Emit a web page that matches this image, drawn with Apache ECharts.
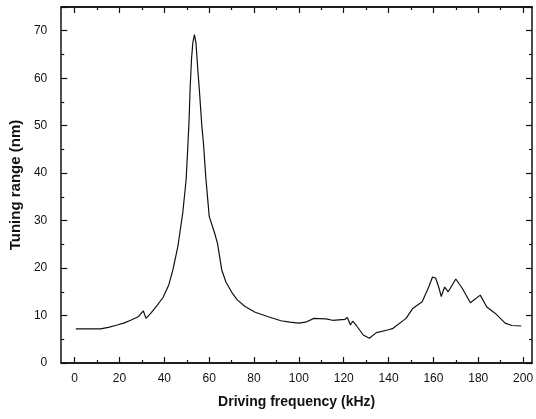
<!DOCTYPE html>
<html lang="en">
<head>
  <meta charset="UTF-8">
  <title>Tuning range</title>
  <script src="https://cdn.jsdelivr.net/npm/echarts@6/dist/echarts.min.js"></script>
  <style>
    html, body { margin: 0; padding: 0; background: #fff; }
    #main { width: 536px; height: 419px; }
  </style>
</head>
<body>
<div id="main"></div>
<script>
  // driving frequency (kHz)
  var freq = [0.5, 5, 11.5, 15, 19, 21.8, 25, 28.5, 30.6, 31.8, 34, 36.5, 39.4, 42, 43.8, 46, 48.2, 49.7, 50.4, 51,
    51.5, 52.1, 52.7, 53.4, 54.1, 54.8, 55.6, 56.7, 57.4, 58.5, 60, 62.2, 63.7, 65.6, 67.5, 70.3, 72.5, 76, 80.5,
    86, 92, 96, 100, 103, 106.7, 112, 115, 120.6, 121.6, 123, 124, 125.8, 128.7, 131.4, 134.6, 140, 142, 147.8, 150.8,
    155, 158, 159.6, 161, 162.5, 163.5, 165, 166.6, 170, 172.8, 176.5, 180.9, 183.8, 187.5, 192, 195, 199.2];
  // tuning range (nm)
  var tuning = [7.2, 7.2, 7.2, 7.5, 8.0, 8.4, 9.0, 9.8, 11.0, 9.4, 10.5, 12, 13.8, 16.5, 19.6, 24.5, 31.6, 38.6, 45, 51,
    58, 64, 67.5, 69.2, 67.4, 62.5, 57.6, 50, 46.5, 39, 30.9, 27.7, 25.2, 19.6, 17, 14.7, 13.3, 11.9, 10.7,
    9.8, 8.9, 8.6, 8.4, 8.6, 9.4, 9.3, 9.0, 9.2, 9.6, 8.0, 8.8, 7.8, 5.9, 5.2, 6.4, 7.0, 7.3, 9.4, 11.5,
    12.9, 16.1, 18.1, 17.9, 15.8, 14.0, 16.0, 15.0, 17.7, 15.8, 12.7, 14.3, 11.8, 10.5, 8.4, 7.9, 7.8];

  var xTicks = [0, 20, 40, 60, 80, 100, 120, 140, 160, 180, 200];
  var xMinor = [10, 30, 50, 70, 90, 110, 130, 150, 170, 190];

  var points = freq.map(function (f, i) { return [f, tuning[i]]; });

  var ink = '#111';
  var font = 'Liberation Sans, Arial, sans-serif';

  function xAx(pos, vals, len, labels) {
    return {
      type: 'value', position: pos, min: -6, max: 204,
      axisLine: { show: true, onZero: false, lineStyle: { color: ink, width: 1.5 } },
      axisTick: { show: true, inside: true, length: len, customValues: vals, lineStyle: { color: ink, width: 1.2 } },
      axisLabel: labels ? { show: true, customValues: vals, color: ink, fontSize: 12, fontFamily: font, margin: 10 } : { show: false },
      splitLine: { show: false }
    };
  }

  var xAxes = [xAx('bottom', xTicks, 6, true), xAx('bottom', xMinor, 3, false),
               xAx('top', xTicks, 6, false), xAx('top', xMinor, 3, false)];
  xAxes[0].name = 'Driving frequency (kHz)';
  xAxes[0].nameLocation = 'middle';
  xAxes[0].nameGap = 32;
  xAxes[0].nameTextStyle = { fontSize: 14, fontWeight: 'bold', color: ink, fontFamily: font };

  function yAx(pos, labels) {
    return {
      type: 'value', position: pos, min: 0, max: 75, interval: 10,
      axisLine: { show: true, onZero: false, lineStyle: { color: ink, width: 1.5 } },
      axisTick: { show: true, inside: true, length: 6, lineStyle: { color: ink, width: 1.2 } },
      minorTick: { show: true, splitNumber: 2, length: 3, lineStyle: { color: ink, width: 1.2 } },
      axisLabel: { show: labels, showMaxLabel: false, color: ink, fontSize: 12, fontFamily: font, margin: 14 },
      splitLine: { show: false }
    };
  }
  var yAxes = [yAx('left', true), yAx('right', false)];
  yAxes[0].name = 'Tuning range (nm)';
  yAxes[0].nameLocation = 'middle';
  yAxes[0].nameGap = 36;
  yAxes[0].nameTextStyle = { fontSize: 15, fontWeight: 'bold', color: ink, fontFamily: font };

  var myChart = echarts.init(document.getElementById('main'));
  myChart.setOption({
    animation: false,
    grid: { left: 57, right: 2, top: 7, bottom: 56, containLabel: false },
    xAxis: xAxes,
    yAxis: yAxes,
    series: [{
      type: 'line',
      data: points,
      xAxisIndex: 0,
      yAxisIndex: 0,
      showSymbol: false,
      smooth: false,
      lineStyle: { color: ink, width: 1.2 }
    }]
  });
</script>
</body>
</html>
